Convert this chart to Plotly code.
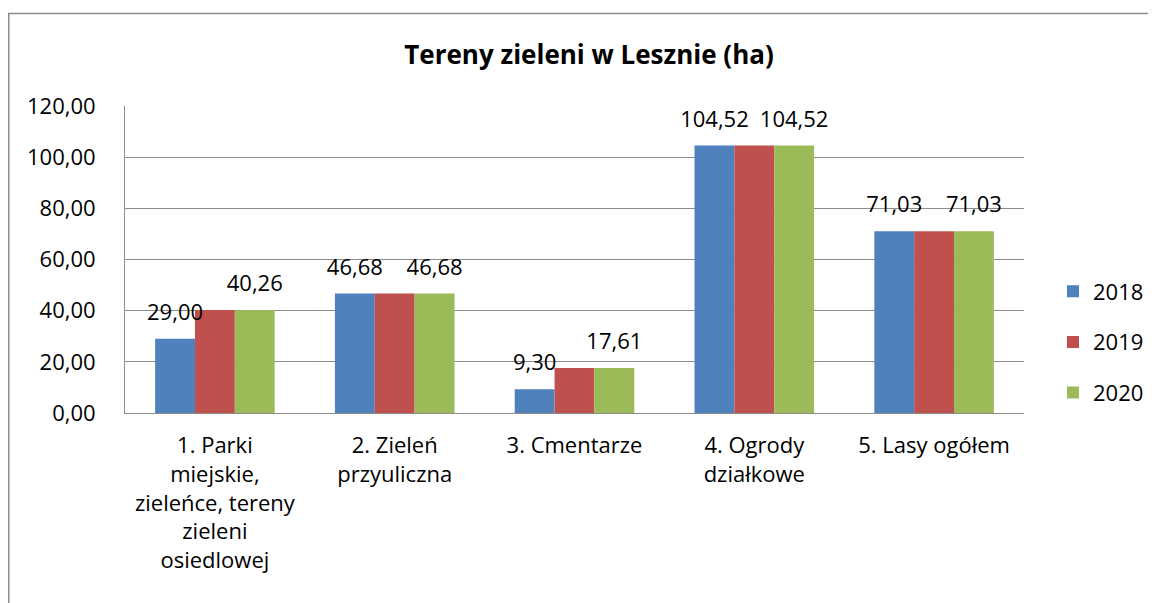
import plotly.graph_objects as go

categories = ["1. Parki<br>miejskie,<br>zieleńce, tereny<br>zieleni<br>osiedlowej",
              "2. Zieleń<br>przyuliczna",
              "3. Cmentarze",
              "4. Ogrody<br>działkowe",
              "5. Lasy ogółem"]
series_names = ["2018", "2019", "2020"]
v2018 = [29.00, 46.68, 9.30, 104.52, 71.03]
v2019 = [40.26, 46.68, 17.61, 104.52, 71.03]
v2020 = [40.26, 46.68, 17.61, 104.52, 71.03]
colors = ["#4F81BD", "#C0504D", "#9BBB59"]
show_labels = [True, False, True]
yticks = [0, 20, 40, 60, 80, 100, 120]

FONT = "Open Sans, sans-serif"
FS = 22
GAP = 0.335

fig = go.Figure()
for name, vals, col in zip(series_names, [v2018, v2019, v2020], colors):
    fig.add_trace(go.Bar(
        x=categories, y=vals, name=name, marker_color=col, marker_line_width=0,
        legendgroup=name,
    ))
# data labels (grouped scatter aligned with the bar groups)
for name, vals, lab in zip(series_names, [v2018, v2019, v2020], show_labels):
    fig.add_trace(go.Scatter(
        x=categories, y=vals, mode="markers+text", showlegend=False,
        text=[f"{v:.2f}".replace(".", ",") for v in vals] if lab else [""] * len(vals),
        textposition="top center", textfont=dict(size=FS, color="black", family=FONT),
        marker=dict(size=20, opacity=0), cliponaxis=False, hoverinfo="skip",
    ))

# page body adds an 8px offset; figure coordinates below are screen - 8
L, R, T, B = 117, 1016, 98, 405
W, H = 1148, 595
fig.update_layout(
    width=W, height=H,
    margin=dict(l=L, r=W - R, t=T, b=H - B, pad=0, autoexpand=False),
    paper_bgcolor="white", plot_bgcolor="white",
    font=dict(family=FONT, size=FS, color="black"),
    separators=", ",
    barmode="group", bargap=GAP, bargroupgap=0,
    scattermode="group", scattergap=GAP,
    title=dict(text="<b>Tereny zieleni w Lesznie (ha)</b>", x=581 / W, xanchor="center",
               y=1 - 47 / H, yanchor="middle", font=dict(size=26, family=FONT)),
    showlegend=True,
    legend=dict(x=(1045 - L) / (R - L), xanchor="left", y=(B - 334) / (B - T), yanchor="middle",
                font=dict(size=FS, family=FONT), tracegroupgap=19, traceorder="grouped",
                itemwidth=30, bgcolor="rgba(0,0,0,0)"),
    xaxis=dict(showline=True, linecolor="#8c8c8c", linewidth=1, ticks="", tickfont=dict(size=FS),
               ticklabelstandoff=13, automargin=False),
    yaxis=dict(range=[0, 120], tickvals=yticks, tickformat=".2f", showgrid=True,
               gridcolor="#8c8c8c", gridwidth=1, showline=True, linecolor="#8c8c8c",
               linewidth=1, ticks="", tickfont=dict(size=FS), ticklabelstandoff=24,
               zeroline=False, automargin=False),
    shapes=[dict(type="rect", xref="paper", yref="paper",
                 x0=(0.75 - L) / (R - L), x1=(W + 20 - L) / (R - L),
                 y0=-(H + 20 - B) / (B - T), y1=1 + (T - 5.5) / (B - T),
                 line=dict(color="#8c8c8c", width=1.5), fillcolor="rgba(0,0,0,0)", layer="below")],
)
fig.write_html("out.html")
